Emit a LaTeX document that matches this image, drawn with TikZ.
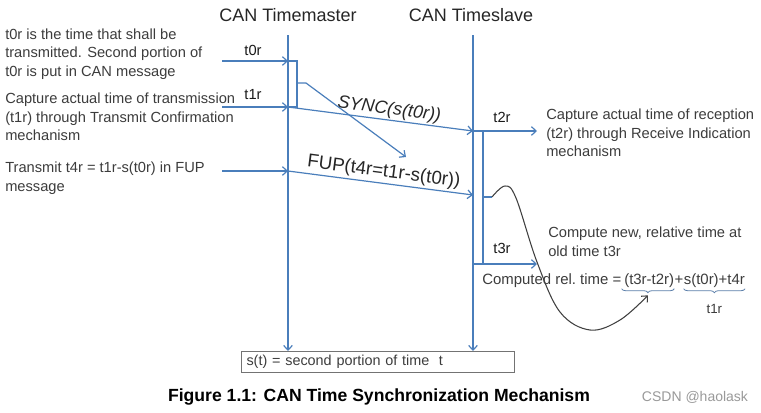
\documentclass[tikz,border=0pt]{standalone}
\usepackage{fontspec}
\setmainfont{Liberation Sans}
\usetikzlibrary{arrows.meta,calc,decorations.pathreplacing}
\definecolor{lineblue}{RGB}{74,126,187}
\definecolor{txt}{RGB}{60,60,60}
\begin{document}
\begin{tikzpicture}[x=0.75pt,y=-0.75pt,
  arr/.style={draw=lineblue, line width=0.9pt, -{Straight Barb[length=3.5pt,width=6.5pt]}},
  life/.style={draw=lineblue, line width=0.9pt},
  curvearr/.style={draw=black!75, line width=0.8pt, -{Straight Barb[length=3.5pt,width=6.5pt]}},
  note/.style={anchor=west, align=left, inner sep=0pt, text=txt, font=\fontsize{11}{14}\selectfont},
  ttl/.style={inner sep=0pt, text=black!85, font=\fontsize{13.5}{16}\selectfont},
  tlab/.style={inner sep=0pt, text=black!90, font=\fontsize{11}{13}\selectfont},
  fml/.style={anchor=base west, inner sep=0pt, text=txt, font=\fontsize{11.2}{13}\selectfont},
  brc/.style={draw=lineblue!70!gray, line width=0.6pt, decorate, decoration={brace, mirror, amplitude=3pt}},
  boxst/.style={draw=black!55, line width=0.8pt, anchor=north west, text width=197pt, inner xsep=3.75pt, inner ysep=0pt, minimum height=15.75pt, align=left, text=txt, font=\fontsize{10.8}{13}\selectfont}
]
\useasboundingbox (0,0) rectangle (761,412);

% titles
\node[ttl] (tm) at (288,15) {CAN Timemaster};
\node[ttl] (ts) at (471,15) {CAN Timeslave};

% lifelines
\coordinate (mtop) at (288,35);
\coordinate (stop) at (473,35);
\node[boxst] (box) at (241,351) {s(t) = second portion of time\ \ t};
\draw[arr] (mtop) -- (mtop |- box.north);
\draw[arr] (stop) -- (stop |- box.north);

% left notes
\node[note] (n1) at (5,54) {t0r is the time that shall be\\transmitted. Second portion of\\t0r is put in CAN message};
\node[note] (n2) at (5,117) {Capture actual time of transmission\\(t1r) through Transmit Confirmation\\mechanism};
\node[note] (n3) at (5,178) {Transmit t4r = t1r-s(t0r) in FUP\\message};

% inputs to master
\coordinate (a0) at (222,61);  \coordinate (m0) at (288,61);
\coordinate (a1) at (222,107); \coordinate (m1) at (288,107);
\coordinate (a4) at (222,171); \coordinate (m4) at (288,171);
\draw[arr] (a0) -- (m0);
\draw[arr] (a1) -- (m1);
\draw[arr] (a4) -- (m4);
\node[tlab] (l0) at (253,50) {t0r};
\node[tlab] (l1) at (253,95) {t1r};

% bracket on master
\coordinate (bt) at (297,61); \coordinate (bb) at (297,107);
\coordinate (bm) at (297,83); \coordinate (bk) at (306,83);
\coordinate (sy) at (406,157);
\draw[life] (m0) -- (bt) -- (bb) -- (m1);
\draw[arr] (bm) -- (bk) -- (sy);

% SYNC message
\coordinate (s2) at (473,131);
\draw[arr] (m1) -- node[pos=0.54, sloped, above=0pt, inner sep=1pt, text=black!85, font=\itshape\fontsize{13.5}{16}\selectfont] (syl) {SYNC(s(t0r))} (s2);

% FUP message
\coordinate (s4) at (473,195);
\draw[arr] (m4) -- node[pos=0.51, sloped, above=0pt, inner sep=1.5pt, text=black!85, font=\fontsize{14}{16}\selectfont] (fupl) {FUP(t4r=t1r-s(t0r))} (s4);

% slave side
\coordinate (r2) at (537,131);
\draw[arr] (s2) -- (r2);
\node[tlab] (l2) at (502,117) {t2r};
\coordinate (i2) at (483,131); \coordinate (i3) at (483,264);
\coordinate (s3) at (473,264); \coordinate (r3) at (537,264);
\draw[life] (i2) -- (i3);
\draw[arr] (s3) -- (r3);
\node[tlab] (l3) at (502,248) {t3r};
\coordinate (i4) at (483,197); \coordinate (k4) at (492,197);
\draw[life] (i4) -- (k4);

% right notes
\node[note] (n4) at (546,133) {Capture actual time of reception\\(t2r) through Receive Indication\\mechanism};
\node[note] (n5) at (548,242) {Compute new, relative time at\\old time t3r};

% formula
\node[fml] (f1) at (482,284) {Computed rel.\ time = };
\node[fml] (f2) at (f1.base east) {\,(t3r-t2r)};
\node[fml] (f3) at (f2.base east) {+};
\node[fml] (f4) at (f3.base east) {s(t0r)+t4r};
\draw[brc] ([yshift=-1pt]f2.south west) -- ([yshift=-1pt]f2.south east);
\draw[brc] ([yshift=-1pt]f4.south west) -- ([yshift=-1pt]f4.south east);
\node[tlab, text=txt, font=\fontsize{10}{12}\selectfont] (t1) at ($(f4.south)+(0,22)$) {t1r};
\coordinate (btip) at ($(f2.south)+(0,8)$);

% curve
\draw[curvearr] plot[smooth, tension=0.6] coordinates {(k4) (505,186) (516,198) (537,262) (560,312) (590,330) (620,320) (btip)};

% caption
\node[inner sep=0pt, font=\bfseries\fontsize{13.2}{15}\selectfont] (cap) at (379,397) {Figure 1.1: CAN Time Synchronization Mechanism};
\node[inner sep=0pt, text=black!40, font=\fontsize{10.5}{12}\selectfont] (wm) at (695,397) {CSDN @haolask};
\end{tikzpicture}
\end{document}
